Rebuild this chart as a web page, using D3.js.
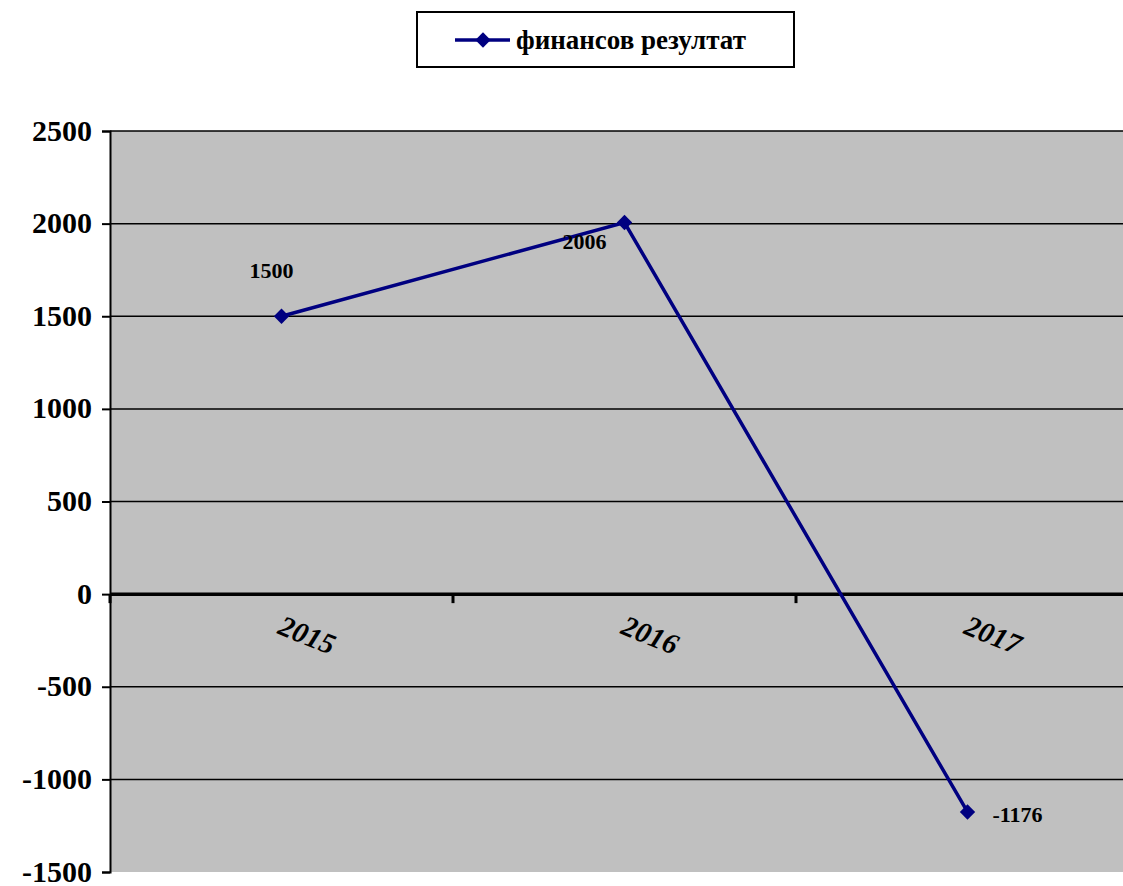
<!DOCTYPE html>
<html>
<head>
<meta charset="utf-8">
<script src="https://cdn.jsdelivr.net/npm/d3@7"></script>
<style>
  body { margin: 0; background: #fff; }
  text { font-family: "Liberation Serif", "DejaVu Serif", serif; font-weight: bold; }
</style>
</head>
<body>
<div id="chart"></div>
<script>
const years = ["2015", "2016", "2017"];
const values = [1500, 2006, -1176];
const seriesName = "финансов резултат";
const yTicks = [-1500, -1000, -500, 0, 500, 1000, 1500, 2000, 2500];

const width = 1123, height = 886;
const plot = { left: 110, top: 131, bottom: 872, bandW: 343 };
const navy = "#000080";

const svg = d3.select("#chart").append("svg")
  .attr("width", width)
  .attr("height", height);

let x = d3.scaleBand()
  .domain(years)
  .range([plot.left, plot.left + plot.bandW * years.length]);

let y = d3.scaleLinear()
  .domain([-1500, 2500])
  .range([plot.bottom, plot.top]);

// plot background
svg.append("rect")
  .attr("x", plot.left).attr("y", plot.top)
  .attr("width", width - plot.left).attr("height", plot.bottom - plot.top)
  .attr("fill", "#c0c0c0");

// gridlines
svg.append("g")
  .selectAll("line")
  .data(yTicks.filter(d => d !== 0 && d !== -1500))
  .join("line")
    .attr("x1", plot.left).attr("x2", width)
    .attr("y1", d => y(d)).attr("y2", d => y(d))
    .attr("stroke", "#000").attr("stroke-width", 1.5);

// y axis
const yAxis = svg.append("g")
  .attr("transform", `translate(${plot.left},0)`)
  .call(d3.axisLeft(y).tickValues(yTicks).tickSize(8).tickPadding(10)
    .tickFormat(d => String(d)));
yAxis.select(".domain").attr("stroke", "#000").attr("stroke-width", 2);
yAxis.selectAll(".tick line").attr("stroke", "#000").attr("stroke-width", 2);
yAxis.selectAll(".tick text")
  .attr("fill", "#000")
  .style("font-size", "30px")
  .attr("dy", "0.3em");

// zero line + category ticks
svg.append("line")
  .attr("x1", plot.left).attr("x2", width)
  .attr("y1", y(0)).attr("y2", y(0))
  .attr("stroke", "#000").attr("stroke-width", 3.5);

svg.append("g")
  .selectAll("line")
  .data(years.map(d => x(d)).concat([x(years[2]) + x.bandwidth()]))
  .join("line")
    .attr("x1", d => d).attr("x2", d => d)
    .attr("y1", y(0)).attr("y2", y(0) + 9)
    .attr("stroke", "#000").attr("stroke-width", 3);

// category labels, rotated
svg.append("g")
  .selectAll("text")
  .data(years)
  .join("text")
    .attr("transform", d => `translate(${x(d) + x.bandwidth() / 2 + 22},${y(0) + 50}) rotate(22)`)
    .attr("text-anchor", "middle")
    .style("font-size", "29px")
    .style("font-style", "italic")
    .text(d => d);

// line + markers
const pts = years.map((d, i) => ({ year: d, value: values[i] }));
const cx = d => x(d.year) + x.bandwidth() / 2;

svg.append("path")
  .datum(pts)
  .attr("fill", "none")
  .attr("stroke", navy)
  .attr("stroke-width", 3.5)
  .attr("d", d3.line().x(cx).y(d => y(d.value)));

const diamond = d3.symbol().type(d3.symbolDiamond2).size(150);
svg.append("g")
  .selectAll("path")
  .data(pts)
  .join("path")
    .attr("transform", d => `translate(${cx(d)},${y(d.value)})`)
    .attr("d", diamond)
    .attr("fill", navy);

// data labels
const labelOffset = [[-10, -38], [-40, 26], [25, 10]];
svg.append("g")
  .selectAll("text")
  .data(pts)
  .join("text")
    .attr("x", (d, i) => cx(d) + labelOffset[i][0])
    .attr("y", (d, i) => y(d.value) + labelOffset[i][1])
    .attr("text-anchor", (d, i) => i === 2 ? "start" : "middle")
    .style("font-size", "22px")
    .text(d => d.value);

// legend
const legend = svg.append("g");
legend.append("rect")
  .attr("x", 417).attr("y", 12)
  .attr("width", 377).attr("height", 55)
  .attr("fill", "#fff").attr("stroke", "#000").attr("stroke-width", 2);
legend.append("line")
  .attr("x1", 455).attr("x2", 510)
  .attr("y1", 40).attr("y2", 40)
  .attr("stroke", navy).attr("stroke-width", 3.5);
legend.append("path")
  .attr("transform", "translate(483,40)")
  .attr("d", diamond)
  .attr("fill", navy);
legend.append("text")
  .attr("x", 516).attr("y", 49)
  .style("font-size", "27px")
  .text(seriesName);
</script>
</body>
</html>
